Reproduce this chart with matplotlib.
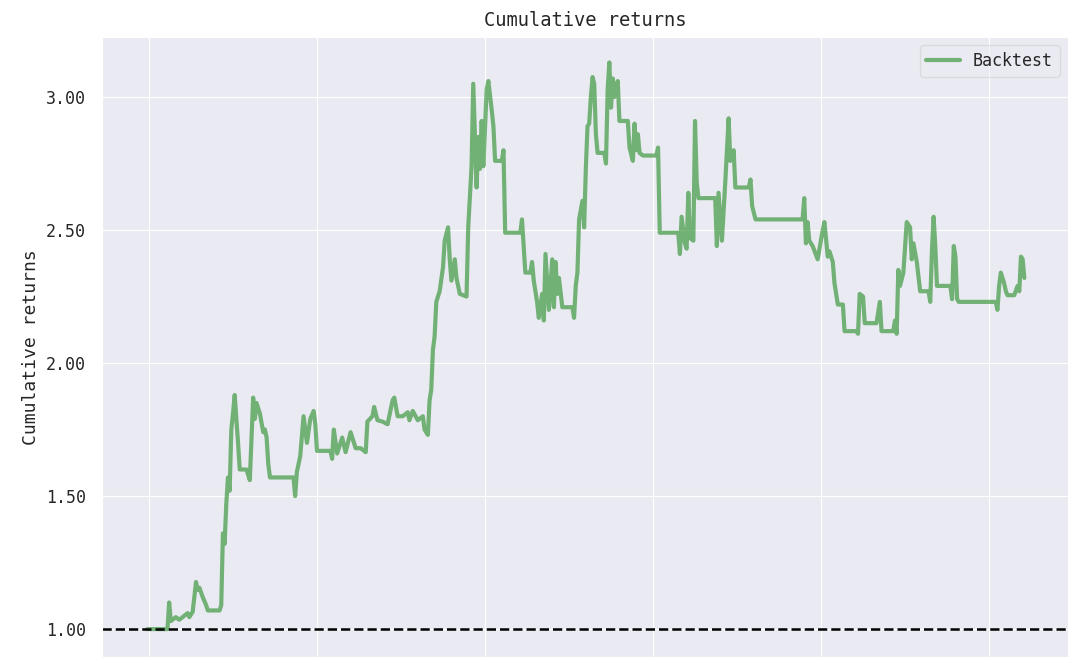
import numpy as np
import matplotlib
matplotlib.use('Agg')
import matplotlib.pyplot as plt
import seaborn as sns
from matplotlib.ticker import MultipleLocator, FormatStrFormatter

# trading-day index and cumulative return
days = [
    -1, 11, 12, 13, 16, 18, 21, 23, 24, 26, 28, 29, 30, 32, 34, 35, 42, 43, 44, 45,
    46, 47, 48, 49, 50, 51, 52, 53, 54, 58, 60, 62, 63, 64, 66, 68, 69, 70, 71, 72,
    86, 87, 88, 90, 92, 94, 96, 98, 99, 100, 108, 109, 110, 112, 115, 117, 120, 123, 126, 129,
    130, 133, 134, 136, 139, 142, 143, 145, 146, 148, 151, 154, 155, 157, 160, 163, 164, 166, 167, 168,
    169, 170, 171, 173, 175, 176, 178, 179, 180, 182, 183, 185, 189, 190, 192, 193, 195, 196, 197, 198,
    199, 201, 202, 204, 205, 206, 210, 211, 212, 221, 222, 223, 224, 227, 228, 229, 231, 232, 234, 235,
    236, 238, 240, 241, 242, 243, 244, 246, 252, 253, 254, 255, 256, 258, 259, 260, 261, 262, 263, 264,
    265, 266, 267, 271, 272, 273, 274, 275, 276, 277, 279, 280, 285, 286, 288, 289, 290, 291, 292, 294,
    302, 303, 304, 315, 316, 317, 319, 320, 321, 322, 324, 325, 326, 327, 330, 337, 338, 339, 341, 343,
    345, 346, 348, 349, 357, 358, 359, 361, 389, 390, 391, 392, 393, 395, 398, 401, 402, 404, 405, 407,
    408, 410, 413, 414, 421, 422, 423, 425, 426, 433, 435, 436, 443, 444, 445, 446, 447, 449, 451, 453,
    454, 455, 457, 459, 464, 465, 466, 467, 468, 469, 477, 478, 479, 480, 481, 482, 504, 505, 506, 507,
    509, 510, 511, 515, 517, 518, 519, 520, 521,
]
cum_returns = [
    1.000, 1.000, 1.10, 1.03, 1.045, 1.035, 1.05, 1.06, 1.045, 1.065, 1.177, 1.147, 1.155, 1.12, 1.09, 1.07, 1.07, 1.09, 1.36, 1.32,
    1.47, 1.57, 1.52, 1.75, 1.81, 1.88, 1.79, 1.70, 1.60, 1.60, 1.56, 1.87, 1.79, 1.85, 1.81, 1.74, 1.75, 1.72, 1.62, 1.57,
    1.57, 1.50, 1.59, 1.65, 1.80, 1.70, 1.79, 1.82, 1.77, 1.67, 1.67, 1.64, 1.75, 1.66, 1.72, 1.665, 1.74, 1.68, 1.68, 1.665,
    1.78, 1.80, 1.835, 1.785, 1.78, 1.77, 1.80, 1.86, 1.87, 1.80, 1.80, 1.815, 1.785, 1.82, 1.785, 1.80, 1.75, 1.73, 1.86, 1.90,
    2.05, 2.10, 2.23, 2.27, 2.36, 2.46, 2.51, 2.39, 2.31, 2.39, 2.32, 2.26, 2.25, 2.51, 2.74, 3.05, 2.66, 2.85, 2.73, 2.91,
    2.74, 3.03, 3.06, 2.95, 2.89, 2.76, 2.76, 2.80, 2.49, 2.49, 2.54, 2.44, 2.34, 2.34, 2.38, 2.31, 2.23, 2.17, 2.26, 2.16,
    2.41, 2.20, 2.39, 2.21, 2.38, 2.26, 2.32, 2.21, 2.21, 2.17, 2.29, 2.34, 2.54, 2.61, 2.51, 2.73, 2.89, 2.90, 3.00, 3.075,
    3.05, 2.86, 2.79, 2.79, 2.75, 3.03, 3.13, 2.96, 3.07, 3.00, 3.06, 2.91, 2.91, 2.81, 2.76, 2.90, 2.80, 2.86, 2.79, 2.78,
    2.78, 2.81, 2.49, 2.49, 2.41, 2.55, 2.45, 2.43, 2.64, 2.47, 2.46, 2.91, 2.68, 2.62, 2.62, 2.62, 2.44, 2.64, 2.46, 2.68,
    2.92, 2.76, 2.80, 2.66, 2.66, 2.69, 2.59, 2.54, 2.54, 2.62, 2.45, 2.53, 2.46, 2.44, 2.39, 2.50, 2.53, 2.40, 2.42, 2.38,
    2.30, 2.22, 2.22, 2.12, 2.12, 2.11, 2.26, 2.25, 2.15, 2.15, 2.23, 2.12, 2.12, 2.16, 2.11, 2.35, 2.29, 2.34, 2.53, 2.51,
    2.39, 2.45, 2.38, 2.27, 2.27, 2.23, 2.42, 2.55, 2.44, 2.29, 2.29, 2.24, 2.44, 2.40, 2.24, 2.23, 2.23, 2.20, 2.29, 2.34,
    2.30, 2.27, 2.255, 2.255, 2.29, 2.27, 2.40, 2.39, 2.32,
]
series_label = 'Backtest'
title = 'Cumulative returns'
ylabel = 'Cumulative returns'


def main():
    sns.set_style('darkgrid')
    plt.rcParams['font.family'] = ['DejaVu Sans Mono', 'DejaVu Sans']

    fig = plt.figure(figsize=(10.8, 6.59), dpi=100)
    ax = fig.add_axes([0.0944, 0.003, 0.8945, 0.941])

    ax.plot(days, cum_returns, color='forestgreen', alpha=0.6, lw=3,
            label=series_label)
    ax.axhline(1.0, linestyle='--', color='black', lw=1.8)

    ax.set_xlim(-28, 547)
    ax.set_ylim(0.895, 3.226)
    ax.xaxis.set_major_locator(MultipleLocator(100))
    ax.yaxis.set_major_locator(MultipleLocator(0.5))
    ax.yaxis.set_major_formatter(FormatStrFormatter('%.2f'))
    ax.tick_params(axis='x', labelbottom=False)
    ax.tick_params(axis='y', labelsize=12, pad=8)

    ax.set_title(title, fontsize=13.5, pad=8)
    ax.set_ylabel(ylabel, fontsize=13)
    ax.legend(loc='upper right', frameon=True, framealpha=0.5, fontsize=12)

    fig.savefig('out.png', dpi=100)


if __name__ == '__main__':
    main()
